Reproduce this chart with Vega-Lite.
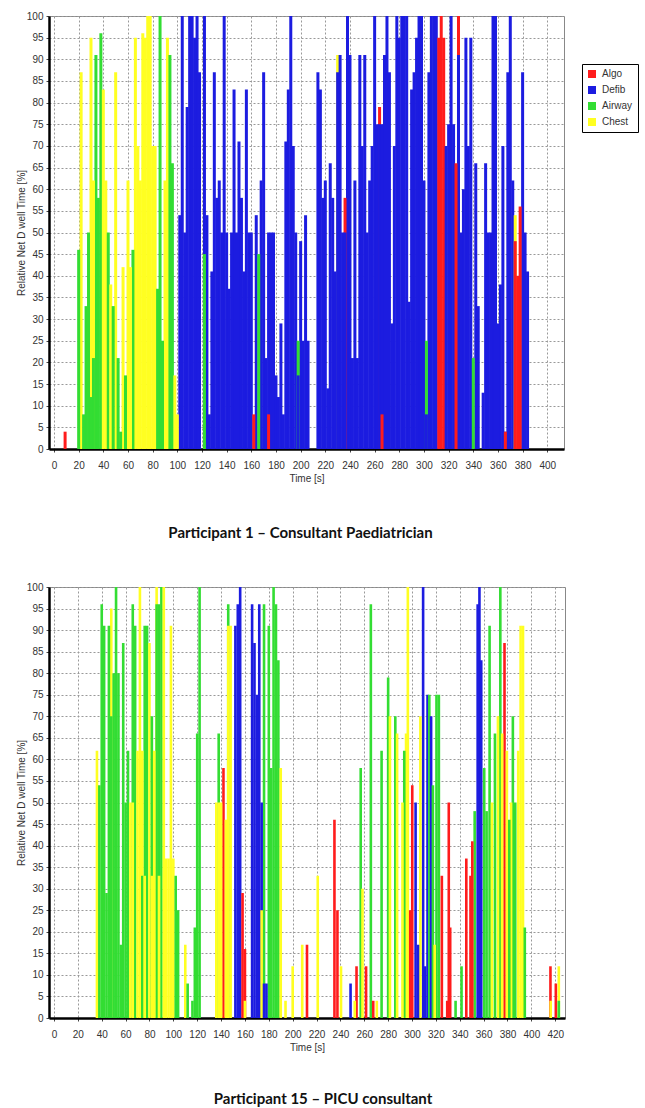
{
 "$schema": "https://vega.github.io/schema/vega-lite/v6.json",
 "background": "white",
 "padding": {"left": 15, "top": 10, "right": 5, "bottom": 5},
 "spacing": 138,
 "bounds": "flush",
 "resolve": {"legend": {"color": "independent"}, "scale": {"x": "independent"}},
 "datasets": {
  "p1": [
   {"t":9,"c":"Algo","v":4},{"t":20,"c":"Airway","v":46},{"t":22,"c":"Chest","v":87},{"t":24,"c":"Airway","v":8},{"t":26,"c":"Airway","v":33},{"t":28,"c":"Airway","v":50},{"t":30,"c":"Chest","v":95},{"t":30,"c":"Airway","v":12},{"t":32,"c":"Chest","v":62},{"t":32,"c":"Airway","v":21},{"t":34,"c":"Airway","v":91},{"t":36,"c":"Airway","v":58},{"t":38,"c":"Airway","v":96},{"t":40,"c":"Chest","v":83},{"t":42,"c":"Chest","v":62},{"t":44,"c":"Airway","v":50},{"t":46,"c":"Chest","v":38},{"t":48,"c":"Airway","v":33},{"t":50,"c":"Chest","v":87},{"t":52,"c":"Airway","v":21},{"t":54,"c":"Airway","v":4},{"t":56,"c":"Chest","v":42},{"t":58,"c":"Airway","v":17},{"t":60,"c":"Chest","v":62},{"t":62,"c":"Chest","v":42},{"t":64,"c":"Airway","v":46},{"t":66,"c":"Chest","v":95},{"t":68,"c":"Chest","v":70},{"t":70,"c":"Chest","v":62},{"t":72,"c":"Chest","v":96},{"t":74,"c":"Chest","v":95},{"t":76,"c":"Chest","v":100},{"t":78,"c":"Chest","v":100},{"t":80,"c":"Chest","v":70},{"t":82,"c":"Chest","v":70},{"t":84,"c":"Airway","v":37},{"t":86,"c":"Airway","v":100},{"t":88,"c":"Airway","v":25},{"t":90,"c":"Chest","v":62},{"t":92,"c":"Chest","v":95},{"t":94,"c":"Airway","v":91},{"t":96,"c":"Airway","v":66},{"t":98,"c":"Chest","v":17},{"t":100,"c":"Chest","v":8},
   {"t":102,"c":"Defib","v":54},{"t":104,"c":"Defib","v":100},{"t":106,"c":"Defib","v":50},{"t":108,"c":"Defib","v":79},{"t":110,"c":"Defib","v":100},{"t":112,"c":"Defib","v":100},{"t":114,"c":"Defib","v":95},{"t":116,"c":"Defib","v":100},{"t":118,"c":"Defib","v":87},{"t":122,"c":"Defib","v":100},{"t":122,"c":"Airway","v":45},{"t":124,"c":"Defib","v":54},{"t":126,"c":"Defib","v":8},{"t":128,"c":"Defib","v":41},{"t":130,"c":"Defib","v":87},{"t":132,"c":"Defib","v":58},{"t":134,"c":"Defib","v":62},{"t":136,"c":"Defib","v":50},{"t":138,"c":"Defib","v":100},{"t":140,"c":"Defib","v":50},{"t":142,"c":"Defib","v":37},{"t":144,"c":"Defib","v":50},{"t":146,"c":"Defib","v":83},{"t":148,"c":"Defib","v":50},{"t":150,"c":"Defib","v":71},{"t":152,"c":"Defib","v":58},{"t":154,"c":"Defib","v":41},{"t":156,"c":"Defib","v":83},{"t":158,"c":"Defib","v":50},{"t":160,"c":"Defib","v":50},{"t":162,"c":"Algo","v":8},{"t":164,"c":"Defib","v":54},{"t":166,"c":"Airway","v":45},{"t":168,"c":"Defib","v":62},{"t":170,"c":"Defib","v":87},{"t":172,"c":"Defib","v":21},{"t":174,"c":"Defib","v":50},{"t":174,"c":"Algo","v":8},{"t":176,"c":"Defib","v":50},{"t":178,"c":"Defib","v":50},{"t":180,"c":"Defib","v":17},{"t":182,"c":"Defib","v":12},{"t":184,"c":"Defib","v":29},{"t":186,"c":"Defib","v":8},{"t":188,"c":"Defib","v":71},{"t":190,"c":"Defib","v":83},{"t":192,"c":"Defib","v":100},{"t":194,"c":"Defib","v":70},{"t":196,"c":"Defib","v":50},{"t":198,"c":"Defib","v":17},{"t":198,"c":"Airway","v":25},{"t":200,"c":"Defib","v":48},{"t":202,"c":"Defib","v":25},{"t":204,"c":"Defib","v":54},{"t":206,"c":"Defib","v":25},
   {"t":214,"c":"Defib","v":87},{"t":216,"c":"Defib","v":83},{"t":218,"c":"Defib","v":58},{"t":220,"c":"Defib","v":62},{"t":222,"c":"Defib","v":14},{"t":224,"c":"Defib","v":66},{"t":226,"c":"Defib","v":58},{"t":228,"c":"Defib","v":41},{"t":230,"c":"Defib","v":87},{"t":230,"c":"Chest","v":91},{"t":232,"c":"Defib","v":91},{"t":234,"c":"Defib","v":50},{"t":236,"c":"Defib","v":50},{"t":236,"c":"Algo","v":58},{"t":238,"c":"Defib","v":100},{"t":240,"c":"Defib","v":91},{"t":242,"c":"Defib","v":21},{"t":244,"c":"Defib","v":62},{"t":246,"c":"Defib","v":21},{"t":248,"c":"Defib","v":91},{"t":250,"c":"Defib","v":70},{"t":252,"c":"Defib","v":91},{"t":254,"c":"Defib","v":50},{"t":256,"c":"Defib","v":62},{"t":258,"c":"Defib","v":70},{"t":260,"c":"Defib","v":100},{"t":262,"c":"Defib","v":75},{"t":264,"c":"Defib","v":75},{"t":264,"c":"Algo","v":79},{"t":266,"c":"Defib","v":75},{"t":266,"c":"Algo","v":8},{"t":268,"c":"Defib","v":91},{"t":270,"c":"Defib","v":100},{"t":272,"c":"Defib","v":87},{"t":274,"c":"Defib","v":29},{"t":276,"c":"Defib","v":70},{"t":278,"c":"Defib","v":100},{"t":280,"c":"Defib","v":95},{"t":282,"c":"Defib","v":100},{"t":284,"c":"Defib","v":100},{"t":286,"c":"Defib","v":100},{"t":288,"c":"Defib","v":34},{"t":290,"c":"Defib","v":83},{"t":292,"c":"Defib","v":87},{"t":294,"c":"Defib","v":95},{"t":296,"c":"Defib","v":100},{"t":298,"c":"Defib","v":100},{"t":300,"c":"Defib","v":62},{"t":302,"c":"Defib","v":8},{"t":302,"c":"Airway","v":25},{"t":304,"c":"Defib","v":87},{"t":306,"c":"Defib","v":100},{"t":308,"c":"Defib","v":100},{"t":310,"c":"Defib","v":100},{"t":312,"c":"Algo","v":95},{"t":314,"c":"Algo","v":100},{"t":316,"c":"Algo","v":95},{"t":318,"c":"Defib","v":70},{"t":320,"c":"Defib","v":75},{"t":322,"c":"Defib","v":100},{"t":324,"c":"Defib","v":75},{"t":326,"c":"Algo","v":66},{"t":328,"c":"Algo","v":100},{"t":328,"c":"Defib","v":91},{"t":330,"c":"Defib","v":50},{"t":332,"c":"Defib","v":60},{"t":334,"c":"Defib","v":95},{"t":336,"c":"Defib","v":70},{"t":338,"c":"Defib","v":95},{"t":340,"c":"Airway","v":21},{"t":342,"c":"Defib","v":66},{"t":344,"c":"Defib","v":33},{"t":348,"c":"Defib","v":13},{"t":350,"c":"Defib","v":66},{"t":352,"c":"Defib","v":50},{"t":354,"c":"Defib","v":50},{"t":356,"c":"Defib","v":100},{"t":358,"c":"Defib","v":100},{"t":360,"c":"Defib","v":29},{"t":362,"c":"Defib","v":38},{"t":364,"c":"Defib","v":70},{"t":366,"c":"Defib","v":4},{"t":366,"c":"Algo","v":4},{"t":368,"c":"Defib","v":87},{"t":370,"c":"Defib","v":100},{"t":372,"c":"Defib","v":62},{"t":374,"c":"Chest","v":54},{"t":374,"c":"Algo","v":48},{"t":376,"c":"Algo","v":40},{"t":378,"c":"Algo","v":56},{"t":380,"c":"Defib","v":87},{"t":382,"c":"Defib","v":50},{"t":384,"c":"Defib","v":41}
  ],
  "p2": [
   {"t":36,"c":"Chest","v":62},{"t":38,"c":"Airway","v":54},{"t":40,"c":"Airway","v":96},{"t":42,"c":"Airway","v":91},{"t":44,"c":"Airway","v":29},{"t":46,"c":"Airway","v":91},{"t":48,"c":"Chest","v":95},{"t":48,"c":"Airway","v":70},{"t":50,"c":"Airway","v":80},{"t":52,"c":"Airway","v":100},{"t":54,"c":"Airway","v":80},{"t":56,"c":"Airway","v":17},{"t":58,"c":"Airway","v":87},{"t":60,"c":"Airway","v":50},{"t":62,"c":"Airway","v":62},{"t":64,"c":"Chest","v":50},{"t":66,"c":"Airway","v":96},{"t":66,"c":"Chest","v":50},{"t":68,"c":"Airway","v":91},{"t":70,"c":"Chest","v":62},{"t":72,"c":"Chest","v":100},{"t":74,"c":"Chest","v":62},{"t":74,"c":"Airway","v":33},{"t":76,"c":"Airway","v":91},{"t":76,"c":"Chest","v":33},{"t":78,"c":"Airway","v":91},{"t":80,"c":"Chest","v":87},{"t":82,"c":"Airway","v":70},{"t":82,"c":"Chest","v":33},{"t":84,"c":"Chest","v":62},{"t":86,"c":"Chest","v":100},{"t":86,"c":"Airway","v":96},{"t":88,"c":"Airway","v":96},{"t":88,"c":"Chest","v":33},{"t":90,"c":"Airway","v":100},{"t":92,"c":"Chest","v":100},{"t":94,"c":"Chest","v":37},{"t":96,"c":"Chest","v":37},{"t":98,"c":"Chest","v":91},{"t":100,"c":"Chest","v":37},{"t":102,"c":"Airway","v":33},{"t":104,"c":"Airway","v":25},{"t":110,"c":"Chest","v":17},{"t":112,"c":"Airway","v":8},{"t":116,"c":"Airway","v":4},{"t":118,"c":"Airway","v":21},{"t":120,"c":"Airway","v":66},{"t":122,"c":"Airway","v":100},
   {"t":136,"c":"Chest","v":50},{"t":138,"c":"Airway","v":66},{"t":138,"c":"Chest","v":50},{"t":140,"c":"Chest","v":50},{"t":142,"c":"Algo","v":58},{"t":144,"c":"Chest","v":46},{"t":146,"c":"Airway","v":96},{"t":146,"c":"Chest","v":91},{"t":148,"c":"Chest","v":91},{"t":152,"c":"Defib","v":91},{"t":154,"c":"Defib","v":96},{"t":156,"c":"Defib","v":100},{"t":158,"c":"Algo","v":29},{"t":160,"c":"Algo","v":16},{"t":160,"c":"Chest","v":4},{"t":166,"c":"Defib","v":96},{"t":168,"c":"Defib","v":87},{"t":170,"c":"Defib","v":75},{"t":172,"c":"Defib","v":96},{"t":174,"c":"Defib","v":50},{"t":174,"c":"Chest","v":25},{"t":176,"c":"Airway","v":96},{"t":176,"c":"Defib","v":8},{"t":178,"c":"Defib","v":8},{"t":180,"c":"Airway","v":91},{"t":182,"c":"Airway","v":58},{"t":184,"c":"Airway","v":100},{"t":186,"c":"Airway","v":96},{"t":188,"c":"Airway","v":83},{"t":190,"c":"Chest","v":58},{"t":194,"c":"Chest","v":4},{"t":200,"c":"Chest","v":12},{"t":208,"c":"Chest","v":17},{"t":212,"c":"Algo","v":17},{"t":221,"c":"Chest","v":33},
   {"t":235,"c":"Algo","v":46},{"t":237.5,"c":"Algo","v":25},{"t":240.5,"c":"Chest","v":12},{"t":248.5,"c":"Defib","v":8},{"t":252,"c":"Chest","v":4},{"t":253.5,"c":"Algo","v":12},{"t":257,"c":"Airway","v":58},{"t":258.5,"c":"Chest","v":30},{"t":261.5,"c":"Algo","v":12},{"t":265.5,"c":"Airway","v":96},{"t":267.5,"c":"Algo","v":4},{"t":270.5,"c":"Chest","v":4},{"t":274.5,"c":"Airway","v":62},{"t":280,"c":"Airway","v":79},{"t":281.5,"c":"Chest","v":70},{"t":286,"c":"Airway","v":70},{"t":287.5,"c":"Chest","v":66},{"t":292,"c":"Chest","v":50},{"t":293.5,"c":"Airway","v":62},{"t":295,"c":"Chest","v":66},{"t":296.5,"c":"Chest","v":100},{"t":298.5,"c":"Algo","v":25},{"t":300.2,"c":"Algo","v":54},{"t":303,"c":"Defib","v":50},{"t":305,"c":"Defib","v":17},{"t":307,"c":"Chest","v":70},{"t":309.3,"c":"Defib","v":100},{"t":311,"c":"Defib","v":12},{"t":313,"c":"Defib","v":75},{"t":314.5,"c":"Airway","v":75},{"t":316,"c":"Defib","v":70},{"t":317.5,"c":"Airway","v":54},{"t":319,"c":"Chest","v":17},{"t":320.5,"c":"Airway","v":75},{"t":322.5,"c":"Airway","v":75},{"t":325,"c":"Algo","v":33},{"t":329.5,"c":"Algo","v":4},{"t":330.8,"c":"Algo","v":50},{"t":332,"c":"Algo","v":21},{"t":336.5,"c":"Airway","v":4},{"t":341.5,"c":"Airway","v":12},{"t":345.5,"c":"Algo","v":37},{"t":349,"c":"Algo","v":33},{"t":350.5,"c":"Algo","v":41},{"t":352.5,"c":"Airway","v":48},{"t":355,"c":"Defib","v":96},{"t":356.5,"c":"Defib","v":100},{"t":358,"c":"Defib","v":83},{"t":360.5,"c":"Airway","v":58},{"t":362.5,"c":"Airway","v":48},{"t":365,"c":"Airway","v":91},{"t":367,"c":"Chest","v":50},{"t":369.5,"c":"Airway","v":66},{"t":372,"c":"Chest","v":70},{"t":374,"c":"Airway","v":100},{"t":375.5,"c":"Chest","v":66},{"t":377.5,"c":"Algo","v":87},{"t":379.5,"c":"Chest","v":62},{"t":381.5,"c":"Airway","v":46},{"t":383,"c":"Chest","v":50},{"t":384.5,"c":"Airway","v":70},{"t":386.5,"c":"Airway","v":50},{"t":389,"c":"Chest","v":62},{"t":391,"c":"Chest","v":91},{"t":393,"c":"Chest","v":91},{"t":394.5,"c":"Airway","v":21},{"t":416,"c":"Algo","v":12},{"t":416.2,"c":"Chest","v":4},{"t":420.5,"c":"Algo","v":8},{"t":423,"c":"Chest","v":12},{"t":423,"c":"Airway","v":4}
  ]
 },
 "vconcat": [
  {
   "width": 515, "height": 433,
   "data": {"name": "p1"},
   "title": {"text": "Participant 1 – Consultant Paediatrician", "orient": "bottom", "offset": 43, "dx": -6},
   "mark": {"type": "bar", "size": 3.0, "clip": true},
   "encoding": {
    "x": {"field": "t", "type": "quantitative", "scale": {"domain": [0, 409.5], "nice": false, "zero": false}, "axis": {"values": [0,20,40,60,80,100,120,140,160,180,200,220,240,260,280,300,320,340,360,380,400], "title": "Time [s]"}},
    "y": {"field": "v", "type": "quantitative", "stack": null, "scale": {"domain": [0, 100], "nice": false}, "axis": {"values": [0,5,10,15,20,25,30,35,40,45,50,55,60,65,70,75,80,85,90,95,100], "title": "Relative Net D well Time [%]"}},
    "color": {"field": "c", "type": "nominal", "scale": {"domain": ["Algo","Defib","Airway","Chest"], "range": ["#ff1c1c","#1c1ce0","#33dd33","#ffff22"]},
     "legend": {"title": null, "orient": "none", "legendX": 533, "legendY": 48, "symbolType": "square", "symbolSize": 64, "symbolStrokeWidth": 0, "labelFontSize": 10, "labelColor": "#333", "rowPadding": 6, "padding": 5, "strokeColor": "#000", "fillColor": "white", "labelOffset": 5}},
    "order": {"field": "v", "sort": "descending"}
   }
  },
  {
   "width": 516, "height": 431,
   "data": {"name": "p2"},
   "title": {"text": "Participant 15 – PICU consultant", "orient": "bottom", "offset": 40, "dx": 16},
   "mark": {"type": "bar", "size": 2.6, "clip": true},
   "encoding": {
    "x": {"field": "t", "type": "quantitative", "scale": {"domain": [0, 424], "nice": false, "zero": false}, "axis": {"values": [0,20,40,60,80,100,120,140,160,180,200,220,240,260,280,300,320,340,360,380,400,420], "title": "Time [s]"}},
    "y": {"field": "v", "type": "quantitative", "stack": null, "scale": {"domain": [0, 100], "nice": false}, "axis": {"values": [0,5,10,15,20,25,30,35,40,45,50,55,60,65,70,75,80,85,90,95,100], "title": "Relative Net D well Time [%]"}},
    "color": {"field": "c", "type": "nominal", "scale": {"domain": ["Algo","Defib","Airway","Chest"], "range": ["#ff1c1c","#1c1ce0","#33dd33","#ffff22"]}, "legend": null},
    "order": {"field": "v", "sort": "descending"}
   }
  }
 ],
 "config": {
  "font": "Liberation Sans",
  "view": {"stroke": "#888", "strokeWidth": 1},
  "axis": {"labelFontSize": 10, "labelColor": "#333", "titleFontSize": 10, "titleFontWeight": "normal", "titleColor": "#333", "domainColor": "#000", "domainWidth": 2.5, "tickColor": "#444", "tickSize": 3, "gridColor": "#999", "gridDash": [2, 2], "gridWidth": 1, "labelPadding": 3},
  "axisX": {"labelPadding": 8, "titlePadding": 3},
  "axisY": {"titlePadding": 0},
  "title": {"font": "Lato", "fontSize": 15, "fontWeight": "bold", "color": "#111"}
 }
}
